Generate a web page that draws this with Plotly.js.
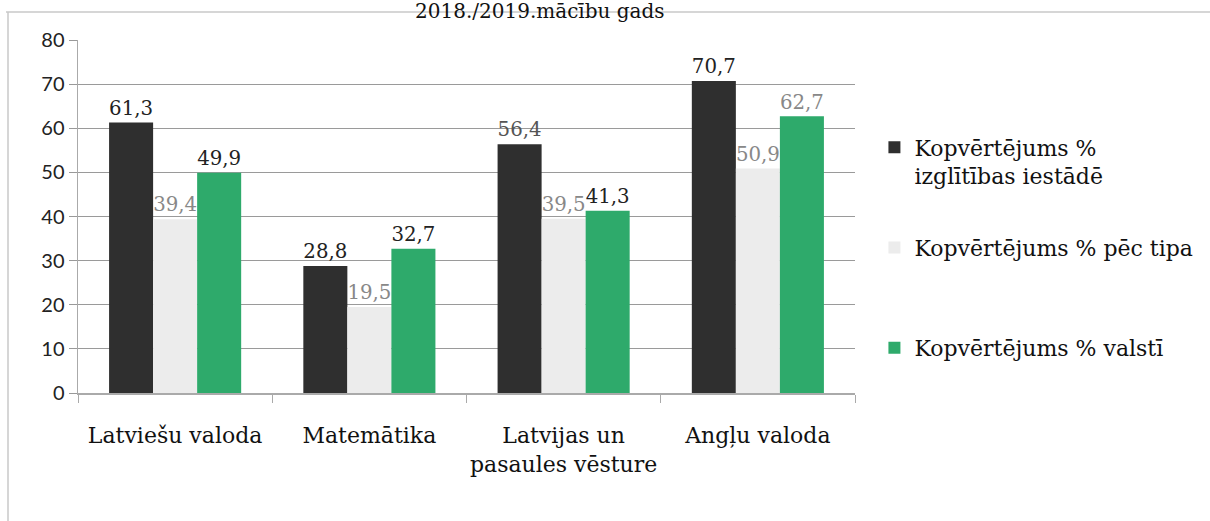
<!DOCTYPE html>
<html><head><meta charset="utf-8">
<script src="https://cdn.plot.ly/plotly-3.0.1.min.js"></script>
<style>body{margin:0;background:#fff}#c{width:1210px;height:521px}</style>
</head><body><div id="c"></div>
<script>
const categories = ["Latviešu valoda", "Matemātika", "Latvijas un<br>pasaules vēsture", "Angļu valoda"];
const seriesNames = ["Kopvērtējums %<br>izglītības iestādē", "Kopvērtējums % pēc tipa<br> ", "Kopvērtējums % valstī"];
const valsIestade = [61.3, 28.8, 56.4, 70.7];
const valsTips = [39.4, 19.5, 39.5, 50.9];
const valsValsts = [49.9, 32.7, 41.3, 62.7];
const yTicks = [0, 10, 20, 30, 40, 50, 60, 70, 80];

const fmt = v => v.toFixed(1).replace('.', ',');
const serif = "DejaVu Serif";

function mk(name, vals, color, textColors, grp) {
  return {
    type: 'bar', x: categories, y: vals, name: name,
    legendgroup: grp,
    marker: {color: color},
    text: vals.map(fmt), textposition: 'outside', cliponaxis: false,
    textfont: {family: serif, size: 21, color: textColors},
    hoverinfo: 'skip'
  };
}
const data = [
  mk(seriesNames[0], valsIestade, '#2f2f2f', ['#222','#222','#555','#222'], 'a'),
  mk(seriesNames[1], valsTips, '#ececec', ['#888','#888','#888','#888'], 'b'),
  mk(seriesNames[2], valsValsts, '#2eaa6b', ['#222','#222','#222','#888'], 'c')
];
const pw = 1210 - 78 - 355, ph = 521 - 40 - 128;
const layout = {
  width: 1210, height: 521,
  margin: {l: 78, r: 355, t: 40, b: 128},
  paper_bgcolor: '#fff', plot_bgcolor: '#fff',
  barmode: 'group', bargap: 0.32, bargroupgap: 0,
  separators: ', ',
  xaxis: {
    tickson: 'boundaries', ticks: 'outside', ticklen: 8, tickcolor: '#aaa', tickangle: 0,
    ticklabelstandoff: 22,
    showline: true, linecolor: '#aaa', linewidth: 1.5,
    tickfont: {family: serif, size: 22, color: '#111'}, showgrid: false
  },
  yaxis: {
    range: [0, 80], tickvals: yTicks, ticks: 'outside', ticklen: 8, tickcolor: '#999',
    showline: true, linecolor: '#aaa', linewidth: 1.5,
    gridcolor: '#9a9a9a', gridwidth: 1.2, zeroline: false,
    tickfont: {family: 'Lato', size: 20, color: '#222'}
  },
  legend: {
    x: 1.025, xanchor: 'left', y: 0.755, yanchor: 'top',
    font: {family: serif, size: 22, color: '#111'},
    valign: 'top', tracegroupgap: 40, itemwidth: 30,
    bgcolor: 'rgba(0,0,0,0)'
  },
  annotations: [{
    text: '2018./2019.mācību gads', xref: 'paper', yref: 'paper',
    x: (540 - 78) / pw, y: 1.0, yshift: 29, xanchor: 'center', yanchor: 'middle', showarrow: false,
    font: {family: serif, size: 20, color: '#111'}
  }],
  shapes: [
    {type: 'line', xref: 'paper', yref: 'paper', x0: (6 - 78) / pw, x1: (1210 - 78) / pw,
     y0: (521 - 128 - 12) / ph, y1: (521 - 128 - 12) / ph, line: {color: '#c8c8c8', width: 1.5}},
    {type: 'line', xref: 'paper', yref: 'paper', x0: (8 - 78) / pw, x1: (8 - 78) / pw,
     y0: (521 - 128 - 12) / ph, y1: (521 - 128 - 521) / ph, line: {color: '#c8c8c8', width: 1.5}}
  ]
};
Plotly.newPlot('c', data, layout, {displayModeBar: false, staticPlot: true});
</script></body></html>
